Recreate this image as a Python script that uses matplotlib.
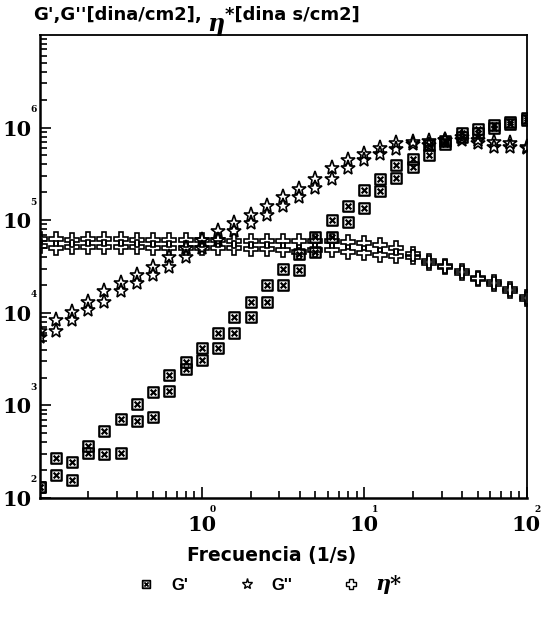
import matplotlib
matplotlib.use('Agg')
import matplotlib.pyplot as plt
from matplotlib.path import Path
from matplotlib.lines import Line2D

# ---------------- data ----------------
freq = [0.1, 0.126, 0.158, 0.2, 0.251, 0.316, 0.398, 0.501, 0.631, 0.794,
        1.0, 1.26, 1.58, 2.0, 2.51, 3.16, 3.98, 5.01, 6.31, 7.94,
        10.0, 12.6, 15.8, 20.0, 25.1, 31.6, 39.8, 50.1, 63.1, 79.4, 100.0]

g1_run1 = [132, 269, 245, 363, 525, 708, 1047, 1380, 2140, 2950,
           4170, 6030, 8910, 13200, 19950, 29500, 43600, 66100, 100000, 141000,
           214000, 282000, 398000, 457000, 646000, 708000, 871000, 955000, 1072000, 1148000, 1259000]
g1_run2 = [132, 178, 155, 309, 299, 309, 684, 741, 1445, 2455,
           3090, 4170, 6030, 8910, 13200, 19950, 28800, 45700, 66100, 95500,
           135000, 209000, 288000, 380000, 501000, 661000, 794000, 871000, 1000000, 1096000, 1202000]

g2_run1 = [6310, 8320, 10200, 13200, 17000, 20900, 25700, 31600, 39800, 50100,
           61700, 75900, 93300, 115000, 141000, 178000, 219000, 282000, 363000, 447000,
           525000, 603000, 676000, 692000, 708000, 741000, 794000, 741000, 692000, 676000, 617000]
g2_run2 = [5500, 6310, 8320, 10700, 13200, 17000, 20900, 25700, 31600, 39800,
           50100, 61700, 75900, 93300, 115000, 141000, 178000, 224000, 282000, 363000,
           447000, 525000, 589000, 661000, 646000, 741000, 741000, 676000, 617000, 617000, 603000]

eta_run1 = [63100, 63100, 61700, 63100, 63100, 63100, 61700, 61700, 61700, 61700,
            61700, 61700, 60300, 60300, 60300, 58900, 58900, 58900, 58900, 57500,
            56200, 53700, 50100, 42700, 36300, 32400, 28200, 24000, 21400, 18200, 14800]
eta_run2 = [52500, 50100, 51300, 51300, 51300, 51300, 51300, 50100, 50100, 50100,
            50100, 50100, 50100, 49000, 49000, 47900, 45700, 47900, 47900, 45700,
            43700, 41700, 40700, 39800, 34700, 30900, 26900, 22900, 20400, 17400, 14100]

x_ticks = [1, 10, 100]
x_exps = ['0', '1', '2']
y_ticks = [1e2, 1e3, 1e4, 1e5, 1e6]
y_exps = ['2', '3', '4', '5', '6']

title_a = "G',G''[dina/cm2],"
title_eta = "η"
title_b = "*[dina s/cm2]"
xlabel = "Frecuencia (1/s)"
legend_labels = ["G'", "G''", "η*"]

# ---------------- figure ----------------
W, H = 542, 627
fig = plt.figure(figsize=(W / 100, H / 100), dpi=100)
x0, x1, y0, y1 = 39.5, 526.5, 35, 498
ax = fig.add_axes([x0 / W, 1 - y1 / H, (x1 - x0) / W, (y1 - y0) / H])

M, L, C = Path.MOVETO, Path.LINETO, Path.CLOSEPOLY
boxx = Path([(-1, -1), (1, -1), (1, 1), (-1, 1), (-1, -1),
             (-0.55, -0.55), (0.55, 0.55), (-0.55, 0.55), (0.55, -0.55)],
            [M, L, L, L, C, M, L, M, L])

sq_kw = dict(ls='none', marker=boxx, ms=7.5, mfc='none', mec='black', mew=1.6)
st_kw = dict(ls='none', marker='*', ms=11, mfc='none', mec='black', mew=1.2)
cr_kw = dict(ls='none', marker='P', ms=10.5, mfc='none', mec='black', mew=1.2)

ax.plot(freq, g1_run1, **sq_kw)
ax.plot(freq, g1_run2, **sq_kw)
ax.plot(freq, g2_run1, **st_kw)
ax.plot(freq, g2_run2, **st_kw)
ax.plot(freq, eta_run1, **cr_kw)
ax.plot(freq, eta_run2, **cr_kw)

ax.set_xscale('log')
ax.set_yscale('log')
ax.set_xlim(0.1, 100)
ax.set_ylim(1e2, 1e7)

for s in ['left', 'bottom']:
    ax.spines[s].set_linewidth(1.8)
for s in ['top', 'right']:
    ax.spines[s].set_linewidth(1.3)

tick_font = dict(family='DejaVu Serif', weight='bold', size=15)
ax.set_xticks(x_ticks)
ax.set_xticklabels(['10'] * len(x_ticks), **tick_font)
ax.set_yticks(y_ticks)
ax.set_yticklabels(['10'] * len(y_ticks), **tick_font)
ax.tick_params(which='both', direction='in', top=False, right=False, width=1.2)
ax.tick_params(which='major', length=8)
ax.tick_params(which='minor', length=5)
ax.tick_params(axis='x', which='major', pad=12)
ax.tick_params(axis='y', which='major', pad=6)

sup_font = dict(family='DejaVu Serif', weight='bold', size=6.5)
for t, e in zip(x_ticks, x_exps):
    ax.annotate(e, xy=(t, 0), xycoords=ax.get_xaxis_transform(),
                xytext=(11, -11), textcoords='offset pixels',
                ha='center', va='center', annotation_clip=False, **sup_font)
for t, e in zip(y_ticks, y_exps):
    ax.annotate(e, xy=(0, t), xycoords=ax.get_yaxis_transform(),
                xytext=(-6, 18), textcoords='offset pixels',
                ha='center', va='center', annotation_clip=False, **sup_font)

# title
sans_b = dict(family='DejaVu Sans', weight='bold', size=13)
t1 = fig.text(33 / W, 1 - 15 / H, title_a, ha='left', va='center', **sans_b)
a2 = ax.annotate(title_eta, xy=(1, 0.5), xycoords=t1, xytext=(5, -9),
                 textcoords='offset pixels', ha='left', va='center',
                 family='DejaVu Serif', weight='bold', style='italic', size=17,
                 annotation_clip=False)
ax.annotate(title_b, xy=(1, 0.5), xycoords=a2, xytext=(1, 9),
            textcoords='offset pixels', ha='left', va='center',
            annotation_clip=False, **sans_b)

fig.text(272 / W, 1 - 555 / H, xlabel, ha='center', va='center',
         family='DejaVu Sans', weight='bold', size=13.5)

handles = [Line2D([], [], **dict(sq_kw, ms=5.5, mew=1.3)),
           Line2D([], [], **dict(st_kw, ms=8, mew=1.0)),
           Line2D([], [], **dict(cr_kw, ms=7.5, mew=1.0))]
leg = fig.legend(handles, legend_labels, loc='center', bbox_to_anchor=(270 / W, 1 - 584 / H),
                 ncol=3, frameon=False, handlelength=1.0, handletextpad=1.0,
                 columnspacing=3.0, prop=dict(family='Liberation Sans', weight='bold', size=12))
txt = leg.get_texts()[2]
txt.set_fontfamily('DejaVu Serif')
txt.set_fontstyle('italic')
txt.set_fontsize(15)

fig.savefig('out.png', dpi=100)
